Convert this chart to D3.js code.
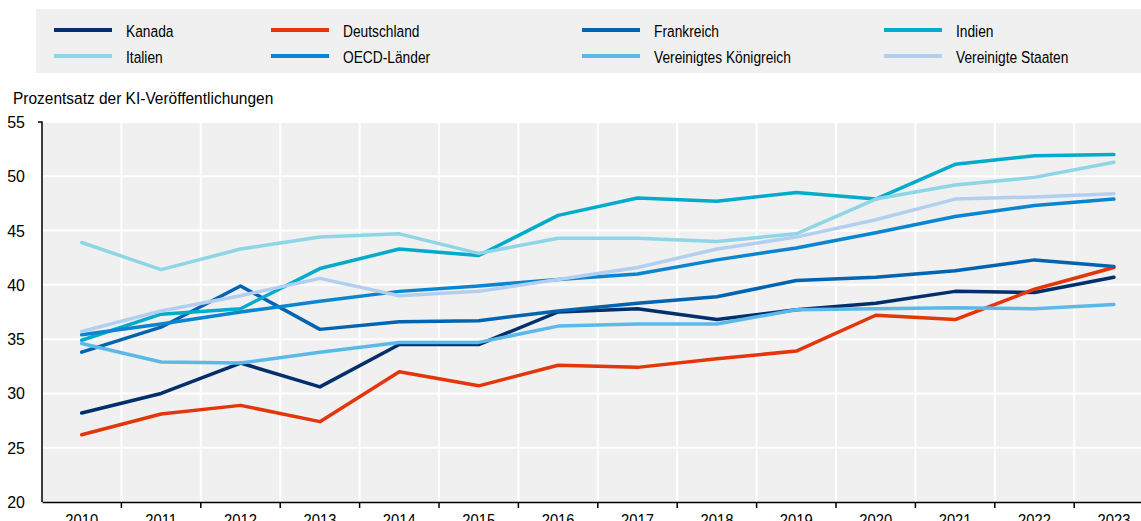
<!DOCTYPE html>
<html>
<head>
<meta charset="utf-8">
<script src="https://cdn.jsdelivr.net/npm/d3@7"></script>
<style>
  body { margin: 0; background: #fff; }
  svg { display: block; }
  text { font-family: "Liberation Sans Narrow", "Arial Narrow", "Liberation Sans", Arial, sans-serif; fill: #000; }
</style>
</head>
<body>
<svg width="1141" height="521"></svg>
<script>
/**
 * Data
 */
var years = ["2010","2011","2012","2013","2014","2015","2016","2017","2018","2019","2020","2021","2022","2023"];
var yTicks = [20, 25, 30, 35, 40, 45, 50, 55];

var kanada      = [28.2, 30.0, 32.8, 30.6, 34.5, 34.5, 37.5, 37.8, 36.8, 37.7, 38.3, 39.4, 39.3, 40.7];
var deutschland = [26.2, 28.1, 28.9, 27.4, 32.0, 30.7, 32.6, 32.4, 33.2, 33.9, 37.2, 36.8, 39.6, 41.6];
var frankreich  = [33.8, 36.1, 39.9, 35.9, 36.6, 36.7, 37.6, 38.3, 38.9, 40.4, 40.7, 41.3, 42.3, 41.7];
var indien      = [34.9, 37.3, 37.8, 41.5, 43.3, 42.7, 46.4, 48.0, 47.7, 48.5, 47.9, 51.1, 51.9, 52.0];
var italien     = [43.9, 41.4, 43.3, 44.4, 44.7, 42.9, 44.3, 44.3, 44.0, 44.7, 47.9, 49.2, 49.9, 51.3];
var oecd        = [35.4, 36.4, 37.5, 38.5, 39.4, 39.9, 40.5, 41.0, 42.3, 43.4, 44.8, 46.3, 47.3, 47.9];
var uk          = [34.6, 32.9, 32.8, 33.8, 34.7, 34.7, 36.2, 36.4, 36.4, 37.7, 37.8, 37.9, 37.8, 38.2];
var usa         = [35.7, 37.6, 39.0, 40.6, 39.0, 39.4, 40.5, 41.6, 43.3, 44.4, 46.0, 47.9, 48.1, 48.4];

var seriesNames  = ["Kanada", "Deutschland", "Frankreich", "Indien", "Italien", "OECD-Länder", "Vereinigtes Königreich", "Vereinigte Staaten"];
var seriesValues = [kanada, deutschland, frankreich, indien, italien, oecd, uk, usa];
var seriesColors = ["#002f6c", "#e3360b", "#0064b0", "#00abcc", "#8ed5e6", "#0a86d0", "#5bb9ea", "#b2cff0"];

/**
 * svg set up
 */
var svg = d3.select("svg");
var margin = {left: 42, top: 122, bottom: 502};
var band = 79.4;

var x = d3.scaleBand()
    .domain(years)
    .range([margin.left, margin.left + band * years.length]);

var y = d3.scaleLinear()
    .domain([20, 55])
    .range([margin.bottom, margin.top]);

// no narrow font installed: squeeze text horizontally instead
function squeeze(sel, s) {
  sel.each(function() {
    var t = d3.select(this);
    var tx = +t.attr("x") || 0;
    t.attr("transform", "translate(" + tx + ",0) scale(" + s + ",1)").attr("x", 0);
  });
}

// ### Legend
var legend = svg.append("g").attr("class", "legend");
legend.append("rect")
    .attr("x", 36).attr("y", 9)
    .attr("width", 1141 - 36).attr("height", 64)
    .attr("fill", "#f0f0f0");

var legendCols = [54, 271, 582, 884];
var legendRows = [30, 56];

var item = legend.selectAll("g.item")
    .data(seriesNames)
  .enter().append("g")
    .attr("class", "item")
    .attr("transform", function(d, i) {
      return "translate(" + legendCols[i % 4] + "," + legendRows[Math.floor(i / 4)] + ")";
    });

item.append("line")
    .attr("x1", 0).attr("x2", 58)
    .attr("stroke", function(d, i) { return seriesColors[i]; })
    .attr("stroke-width", 4);

item.append("text")
    .attr("x", 72).attr("y", 6.5)
    .attr("font-size", 17)
    .text(function(d) { return d; })
    .call(squeeze, 0.81);

// ### Plot background + grid
var plotRight = x.range()[1];
svg.append("rect")
    .attr("x", margin.left).attr("y", margin.top)
    .attr("width", plotRight - margin.left)
    .attr("height", margin.bottom - margin.top)
    .attr("fill", "#f0f0f0");

var grid = svg.append("g").attr("class", "grid");
grid.selectAll("line.h")
    .data(yTicks.slice(1))
  .enter().append("line")
    .attr("class", "h")
    .attr("x1", margin.left).attr("x2", plotRight)
    .attr("y1", function(d) { return y(d); })
    .attr("y2", function(d) { return y(d); })
    .attr("stroke", "#fff").attr("stroke-width", 2);

grid.selectAll("line.v")
    .data(years.slice(1))
  .enter().append("line")
    .attr("class", "v")
    .attr("x1", function(d) { return x(d); })
    .attr("x2", function(d) { return x(d); })
    .attr("y1", margin.top).attr("y2", margin.bottom)
    .attr("stroke", "#fff").attr("stroke-width", 2);

// ### Axes
var xAxis = svg.append("g")
    .attr("transform", "translate(0," + margin.bottom + ")")
    .call(d3.axisBottom(x).tickSize(0).tickPadding(12));
xAxis.select(".domain").attr("stroke", "#000").attr("stroke-width", 1.5);
xAxis.selectAll("text").attr("font-size", 17).attr("font-family", null).call(squeeze, 0.87);

// boundary ticks on the x axis
xAxis.selectAll("line.bt")
    .data(years.slice(1))
  .enter().append("line")
    .attr("class", "bt")
    .attr("x1", function(d) { return x(d); })
    .attr("x2", function(d) { return x(d); })
    .attr("y1", 0).attr("y2", 6)
    .attr("stroke", "#000").attr("stroke-width", 1.5);

var yAxis = svg.append("g")
    .attr("transform", "translate(" + margin.left + ",0)")
    .call(d3.axisLeft(y).tickValues(yTicks).tickSize(0).tickPadding(17));
yAxis.select(".domain").attr("stroke", "#000").attr("stroke-width", 1.5)
    .attr("d", "M-4," + margin.top + "H0V" + margin.bottom);
yAxis.selectAll("text").attr("font-size", 17).attr("font-family", null).call(squeeze, 0.94);

// axis title
svg.append("text")
    .attr("x", 13).attr("y", 104)
    .attr("font-size", 17)
    .text("Prozentsatz der KI-Veröffentlichungen")
    .call(squeeze, 0.91);

// ### Lines
var line = d3.line()
    .x(function(d, i) { return x(years[i]) + x.bandwidth() / 2; })
    .y(function(d) { return y(d); });

svg.append("g").attr("class", "lines")
  .selectAll("path")
    .data(seriesValues)
  .enter().append("path")
    .attr("d", line)
    .attr("fill", "none")
    .attr("stroke", function(d, i) { return seriesColors[i]; })
    .attr("stroke-width", 3.5)
    .attr("stroke-linejoin", "round")
    .attr("stroke-linecap", "round");
</script>
</body>
</html>
